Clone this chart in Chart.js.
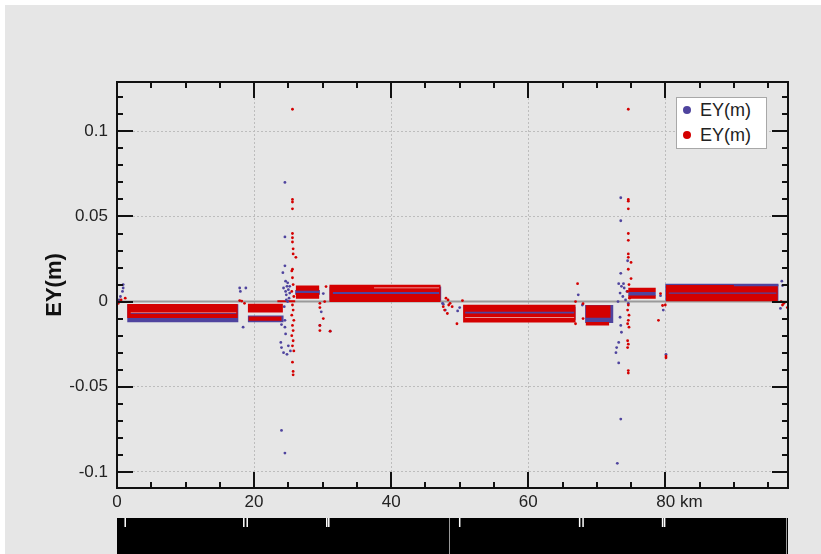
<!DOCTYPE html>
<html>
<head>
<meta charset="utf-8">
<script src="https://cdn.jsdelivr.net/npm/chart.js@4.4.0/dist/chart.umd.min.js"></script>
<style>
    html, body { margin: 0; padding: 0; background: #fff; }
    #panel { position: absolute; left: 5px; top: 5px; width: 816px; height: 549px; background: #e6e6e6; overflow: hidden; }
    #chart { position: absolute; left: 0; top: 0; }
    #legend {
        position: absolute; left: 671px; top: 92px; width: 89px; height: 50px;
        background: #fff; border: 1px solid #a8a8a8;
        font-family: "Liberation Sans", Arial, sans-serif; font-size: 18px; color: #222;
    }
    #legend .item { position: absolute; left: 0; height: 22px; line-height: 22px; white-space: nowrap; }
    #legend .dot { position: absolute; left: 6px; top: 7px; width: 8px; height: 8px; border-radius: 50%; }
    #legend .text { position: absolute; left: 23px; top: 0; }
</style>
</head>
<body>
<div id="panel">
    <canvas id="chart" width="816" height="549"></canvas>
    <div id="legend"></div>
</div>
<script>
// Axis ranges (km along the route, lateral error in metres)
const X_MIN = 0, X_MAX = 97.9;
const Y_MIN = -0.1095, Y_MAX = 0.129;

// Tick positions and labels
const xTickValues = [0, 5, 10, 15, 20, 25, 30, 35, 40, 45, 50, 55, 60, 65, 70, 75, 80, 85, 90, 95];
const xMajorValues = [0, 20, 40, 60, 80];
const xMajorLabels = ['0', '20', '40', '60', '80 km'];
const yTickValues = [-0.10, -0.09, -0.08, -0.07, -0.06, -0.05, -0.04, -0.03, -0.02, -0.01, 0,
    0.01, 0.02, 0.03, 0.04, 0.05, 0.06, 0.07, 0.08, 0.09, 0.10, 0.11, 0.12];
const yMajorValues = [-0.1, -0.05, 0, 0.05, 0.1];
const yMajorLabels = ['-0.1', '-0.05', '0', '0.05', '0.1'];

// Series names
const seriesNames = ['EY(m)', 'EY(m)'];

// Dense runs of points: [kmStart, kmEnd, yLow, yHigh]
const blueBands = [
    [1.5, 17.7, -0.0122, -0.0015],
    [19.1, 24.3, -0.0122, -0.0082],
    [26.0, 29.6, 0.0040, 0.0068],
    [31.0, 47.3, 0.0005, 0.0088],
    [50.6, 66.9, -0.0108, -0.0030],
    [68.3, 72.4, -0.0125, -0.0020],
    [74.6, 78.6, 0.0033, 0.0056],
    [80.0, 96.5, 0.0005, 0.0105]
];
const redBands = [
    [1.5, 17.6, -0.0096, -0.0014],
    [19.1, 24.2, -0.0064, -0.0012],
    [19.2, 24.0, -0.0113, -0.0088],
    [23.4, 26.0, -0.0004, 0.0008],
    [26.1, 29.5, 0.0063, 0.0095],
    [26.1, 29.5, 0.0016, 0.0050],
    [31.0, 47.2, -0.0003, 0.0099],
    [50.5, 66.9, -0.0123, -0.0018],
    [68.4, 72.0, -0.0095, -0.0022],
    [68.4, 71.8, -0.0140, -0.0120],
    [74.6, 78.6, 0.0056, 0.0082],
    [74.6, 78.6, 0.0016, 0.0036],
    [80.1, 96.4, 0.0002, 0.0097]
];
// blue rows that show through the red runs
const blueStreaks = [
    [2.0, 17.4, -0.0072, -0.0067],
    [31.5, 47.0, 0.0045, 0.0056],
    [50.8, 66.7, -0.0070, -0.0060],
    [80.5, 96.2, 0.0046, 0.0054],
    [90.0, 96.5, 0.0090, 0.0101]
];
// thin empty rows inside the runs
const gapStreaks = [
    [2.0, 17.4, -0.0066, -0.0062],
    [37.5, 47.0, 0.0079, 0.0083],
    [50.8, 66.7, -0.0096, -0.0092]
];

// Scattered points: [km, y]
const bluePoints = [
    [0.3, 0.001], [0.5, 0.003], [0.8, 0.006], [0.9, 0.008], [0.9, 0.010],
    [17.9, 0.008], [18.0, 0.006], [18.8, 0.008], [18.4, -0.015],
    [24.5, 0.070], [24.5, 0.038], [24.5, 0.021], [24.2, 0.017], [24.6, 0.012],
    [24.8, 0.009], [25.0, 0.007], [25.2, 0.005], [24.7, 0.004], [25.1, 0.002],
    [24.9, 0.000], [24.4, -0.003], [24.6, 0.006], [24.9, 0.011], [25.2, 0.009],
    [24.3, 0.008], [24.7, 0.001], [24.0, -0.0135], [24.5, -0.011], [24.5, -0.015],
    [24.6, -0.019], [23.9, -0.024], [24.0, -0.027], [24.3, -0.030], [24.8, -0.031],
    [25.3, -0.029], [25.0, -0.026], [24.0, -0.0757], [24.5, -0.089],
    [29.8, -0.006], [30.1, 0.0047], [29.6, -0.014], [31.1, -0.0174],
    [47.5, -0.001], [47.6, -0.0015], [47.9, -0.005], [49.7, -0.0055], [50.0, -0.0035],
    [67.3, 0.004], [67.9, -0.002],
    [73.5, 0.061], [73.5, 0.0475], [74.5, 0.024], [73.5, 0.0166],
    [73.2, 0.0105], [73.6, 0.009], [74.0, 0.008], [74.4, 0.006], [73.4, 0.005],
    [73.8, 0.003], [74.2, 0.001], [73.1, 0.0], [74.6, -0.001], [73.9, 0.0105],
    [73.4, -0.0092], [73.5, -0.014], [73.6, -0.018], [73.2, -0.024], [72.9, -0.027],
    [72.8, -0.030], [73.2, -0.036], [73.5, -0.069], [73.0, -0.095],
    [79.3, 0.0035], [79.7, -0.005], [80.1, -0.031],
    [97.0, 0.012], [97.1, 0.0094], [96.8, -0.004]
];
const redPoints = [
    [0.1, 0.000], [0.2, -0.001], [0.6, 0.001], [1.2, 0.002],
    [17.9, 0.0006], [18.2, 0.0003], [18.6, -0.001],
    [25.6, 0.113], [25.6, 0.060], [25.6, 0.0585], [25.6, 0.0545], [25.6, 0.040],
    [25.6, 0.0375], [25.6, 0.035], [25.7, 0.031], [25.7, 0.028], [26.1, 0.026],
    [25.6, 0.019], [25.5, 0.018], [25.6, 0.014], [25.7, 0.010], [25.5, 0.006],
    [25.8, 0.003], [25.6, -0.002], [25.7, -0.005], [25.5, -0.008], [25.8, -0.011],
    [25.6, -0.014], [25.7, -0.017], [25.5, -0.020], [25.7, -0.023], [25.6, -0.026],
    [25.8, -0.029], [25.6, -0.0356], [25.7, -0.041], [25.7, -0.043],
    [29.6, -0.001], [29.6, -0.0035], [30.1, -0.010], [29.6, -0.014], [29.6, -0.017],
    [30.5, 0.0088], [30.3, 0.000], [31.1, -0.0174],
    [48.0, 0.002], [48.3, 0.001], [48.6, -0.001], [48.9, -0.003], [48.4, -0.002],
    [47.6, -0.003], [47.8, -0.005], [48.2, -0.007], [49.6, -0.013], [50.4, 0.0006],
    [67.2, 0.0105], [66.9, 0.000], [68.0, -0.0012], [68.0, -0.010], [66.9, -0.013],
    [74.6, 0.113], [74.6, 0.060], [74.6, 0.059], [74.6, 0.0545], [74.6, 0.040],
    [74.6, 0.036], [74.6, 0.028], [74.6, 0.026], [75.0, 0.023], [74.6, 0.019],
    [75.0, 0.0135], [74.7, 0.010], [74.5, 0.006], [74.8, 0.002], [74.6, -0.002],
    [74.5, -0.005], [74.7, -0.008], [74.6, -0.011], [74.5, -0.013], [74.7, -0.015],
    [74.5, -0.023], [74.6, -0.025], [74.5, -0.027], [74.6, -0.0405], [74.6, -0.042],
    [79.0, -0.011], [79.6, -0.0023], [79.3, 0.0047], [80.1, -0.032], [80.1, -0.033], [80.0, -0.002],
    [96.9, 0.000], [97.1, -0.002], [97.3, -0.001], [97.8, -0.0035]
];

// Track strip under the plot (km positions)
const trackMarks = [1.2, 18.5, 19.0, 30.6, 30.9, 50.0, 67.5, 68.0, 79.6, 79.9];
const trackSplits = [48.4, 97.6];

// Colours
const BLUE = '#4f449e';
const RED = '#d40000';

function isMajor(value, majors) {
    return majors.some(function(m) { return Math.abs(m - value) < 1e-9; });
}

function majorLabel(value, majors, labels) {
    const i = majors.findIndex(function(m) { return Math.abs(m - value) < 1e-9; });
    return i < 0 ? '' : labels[i];
}

function toPoints(list) {
    return list.map(function(p) { return { x: p[0], y: p[1] }; });
}

// Build a filled rectangle dataset from one band
function bandDataset(band, color, order) {
    const x0 = band[0], x1 = band[1], lo = band[2], hi = band[3];
    return {
        type: 'line',
        label: 'band',
        data: [{x: x0, y: lo}, {x: x1, y: lo}, {x: x1, y: hi}, {x: x0, y: hi}, {x: x0, y: lo}],
        backgroundColor: color,
        borderWidth: 0,
        pointRadius: 0,
        tension: 0,
        fill: 'shape',
        order: order
    };
}

// Frame, inward ticks and the track strip
const framePlugin = {
    id: 'frame',
    afterDatasetsDraw(chart) {
        const ctx = chart.ctx;
        const a = chart.chartArea;
        const x = chart.scales.x;
        const y = chart.scales.y;
        ctx.save();
        ctx.strokeStyle = '#111';
        ctx.lineWidth = 2;
        ctx.beginPath();
        x.ticks.forEach(function(t) {
            const p = Math.round(x.getPixelForValue(t.value));
            const len = isMajor(t.value, xMajorValues) ? 16 : 6;
            ctx.moveTo(p, a.bottom); ctx.lineTo(p, a.bottom - len);
            ctx.moveTo(p, a.top); ctx.lineTo(p, a.top + len);
        });
        y.ticks.forEach(function(t) {
            const p = Math.round(y.getPixelForValue(t.value));
            const len = isMajor(t.value, yMajorValues) ? 16 : 6;
            ctx.moveTo(a.left, p); ctx.lineTo(a.left + len, p);
            ctx.moveTo(a.right, p); ctx.lineTo(a.right - len, p);
        });
        ctx.stroke();
        ctx.strokeRect(a.left, a.top, a.right - a.left, a.bottom - a.top);
        ctx.restore();
    },
    afterDraw(chart) {
        const ctx = chart.ctx;
        const a = chart.chartArea;
        const x = chart.scales.x;
        const top = a.bottom + 30;
        const bottom = chart.height;
        const left = x.getPixelForValue(X_MIN);
        const right = x.getPixelForValue(X_MAX);
        ctx.save();
        ctx.fillStyle = '#000';
        ctx.fillRect(left, top, right - left, bottom - top);
        ctx.strokeStyle = '#fff';
        ctx.lineWidth = 1.5;
        ctx.beginPath();
        trackMarks.forEach(function(km) {
            const p = x.getPixelForValue(km);
            ctx.moveTo(p, top); ctx.lineTo(p, top + 9);
        });
        ctx.stroke();
        ctx.strokeStyle = '#9a9a9a';
        ctx.lineWidth = 1;
        ctx.beginPath();
        trackSplits.forEach(function(km) {
            const p = Math.round(x.getPixelForValue(km)) + 0.5;
            ctx.moveTo(p, top); ctx.lineTo(p, bottom);
        });
        ctx.stroke();
        ctx.restore();
    }
};

const datasets = [];

// Zero line
datasets.push({
    type: 'line',
    label: 'zero',
    data: [{x: X_MIN, y: 0}, {x: X_MAX, y: 0}],
    borderColor: '#9a9a9a',
    borderWidth: 2,
    pointRadius: 0,
    fill: false,
    order: 10
});
blueBands.forEach(function(b) { datasets.push(bandDataset(b, BLUE, 8)); });
redBands.forEach(function(b) { datasets.push(bandDataset(b, RED, 6)); });
gapStreaks.forEach(function(b) { datasets.push(bandDataset(b, 'rgba(255,255,255,0.75)', 5)); });
blueStreaks.forEach(function(b) { datasets.push(bandDataset(b, BLUE, 4)); });
datasets.push({
    label: seriesNames[0],
    data: toPoints(bluePoints),
    backgroundColor: BLUE,
    borderWidth: 0,
    pointRadius: 1.4,
    order: 2
});
datasets.push({
    label: seriesNames[1],
    data: toPoints(redPoints),
    backgroundColor: RED,
    borderWidth: 0,
    pointRadius: 1.4,
    order: 1
});

const tickFont = { family: '"Liberation Sans", Arial, sans-serif', size: 17 };

new Chart(document.getElementById('chart'), {
    type: 'scatter',
    data: { datasets: datasets },
    plugins: [framePlugin],
    options: {
        responsive: false,
        animation: false,
        events: [],
        layout: { padding: { left: 0, top: 77, right: 33, bottom: 0 } },
        plugins: {
            legend: { display: false },
            tooltip: { enabled: false }
        },
        scales: {
            x: {
                type: 'linear',
                min: X_MIN,
                max: X_MAX,
                afterBuildTicks: function(scale) {
                    scale.ticks = xTickValues.map(function(v) { return { value: v }; });
                },
                afterFit: function(scale) { scale.height = 66; },
                border: { display: false, dash: [2, 2] },
                grid: {
                    drawTicks: false,
                    lineWidth: 1,
                    color: function(c) {
                        return c.tick && c.tick.value !== 0 && isMajor(c.tick.value, xMajorValues) ? '#bdbdbd' : 'rgba(0,0,0,0)';
                    }
                },
                ticks: {
                    autoSkip: false,
                    maxRotation: 0,
                    padding: 4,
                    color: '#222',
                    font: tickFont,
                    callback: function(value) {
                        const label = majorLabel(value, xMajorValues, xMajorLabels);
                        // keep the number centred on its tick when the unit follows it
                        return label.indexOf(' ') > 0 ? '      ' + label : label;
                    }
                }
            },
            y: {
                type: 'linear',
                min: Y_MIN,
                max: Y_MAX,
                afterBuildTicks: function(scale) {
                    scale.ticks = yTickValues.map(function(v) { return { value: v }; });
                },
                afterFit: function(scale) { scale.width = 112; },
                border: { display: false, dash: [2, 2] },
                grid: {
                    drawTicks: false,
                    lineWidth: 1,
                    color: function(c) {
                        return c.tick && c.tick.value !== 0 && isMajor(c.tick.value, yMajorValues) ? '#bdbdbd' : 'rgba(0,0,0,0)';
                    }
                },
                title: {
                    display: true,
                    text: 'EY(m)',
                    color: '#111',
                    font: { family: '"Liberation Sans", Arial, sans-serif', size: 22, weight: 'bold' },
                    padding: { top: 37, bottom: 0 }
                },
                ticks: {
                    autoSkip: false,
                    padding: 9,
                    color: '#222',
                    font: tickFont,
                    callback: function(value) {
                        return majorLabel(value, yMajorValues, yMajorLabels);
                    }
                }
            }
        }
    }
});

// Legend inside the plot
const legend = document.getElementById('legend');
[BLUE, RED].forEach(function(color, i) {
    const item = document.createElement('div');
    item.className = 'item';
    item.style.top = (1 + i * 25) + 'px';
    item.innerHTML = '<span class="dot" style="background:' + color + '"></span><span class="text"></span>';
    item.querySelector('.text').textContent = seriesNames[i];
    legend.appendChild(item);
});
</script>
</body>
</html>
